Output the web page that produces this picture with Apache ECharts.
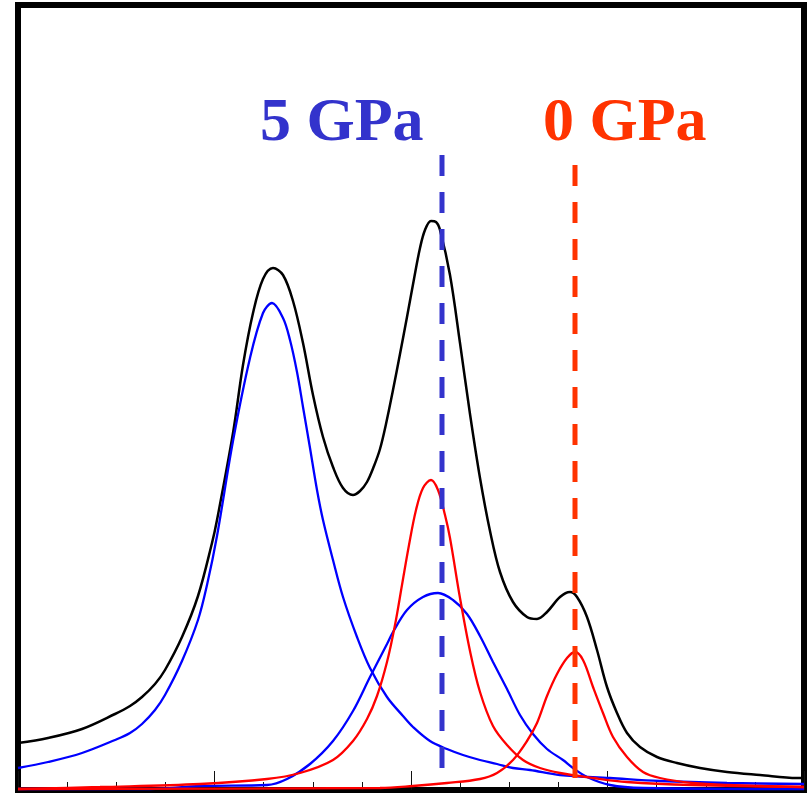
<!DOCTYPE html>
<html>
<head>
<meta charset="utf-8">
<title>peaks</title>
<script src="https://cdn.jsdelivr.net/npm/echarts@6/dist/echarts.min.js"></script>
<style>
  html, body { margin: 0; padding: 0; background: #fff; }
  #main { width: 808px; height: 793px; }
</style>
</head>
<body>
<div id="main"></div>
<script>
// readings, [x, intensity] in arbitrary units
let totalCurve = [
  [0, 47], [30, 52], [64, 61], [97, 76], [112, 84], [124, 93], [137, 106], [147, 120],
  [164, 153], [180, 194], [194, 247], [199, 270], [215, 357], [225, 425], [235, 477],
  [245, 511], [255, 522], [265, 515], [275, 489], [285, 447], [295, 395], [305, 353],
  [315, 323], [325, 302], [335, 295], [342, 299], [349, 308], [356, 324], [362, 341],
  [368, 366], [375, 400], [382, 436], [389, 473], [396, 511], [402, 542], [407, 560],
  [413, 569], [418, 568], [422, 560], [432, 515], [442, 447], [452, 376], [462, 312],
  [472, 259], [482, 218], [495, 188], [509, 173], [519, 171], [529, 178], [542, 193],
  [552, 198], [559, 193], [569, 173], [579, 140], [589, 103], [599, 77], [609, 57],
  [622, 43], [639, 33], [659, 27], [682, 22], [709, 18], [742, 15], [779, 12], [786, 12]
];
let blueBroad = [
  [0, 22], [30, 28], [64, 37], [97, 50], [112, 57], [124, 66], [137, 80], [147, 95],
  [164, 129], [180, 170], [189, 205], [199, 254], [215, 349], [232, 432], [245, 477],
  [254, 487], [265, 472], [272, 450], [279, 418], [285, 383], [292, 342], [299, 300],
  [305, 270], [315, 230], [325, 193], [339, 153], [352, 122], [369, 93], [385, 74],
  [395, 63], [412, 49], [429, 41], [445, 35], [462, 30], [479, 26], [495, 22],
  [512, 20], [542, 15], [592, 12], [642, 9], [709, 7], [786, 6]
];
let blueSecond = [
  [0, 1], [132, 1], [182, 4], [249, 5], [269, 11], [292, 26], [315, 49], [335, 79],
  [352, 113], [369, 146], [375, 158], [389, 180], [405, 193], [420, 197], [435, 190],
  [449, 176], [462, 154], [475, 128], [489, 101], [502, 75], [515, 56], [529, 41],
  [545, 30], [555, 22], [569, 13], [592, 5], [625, 2], [786, 1]
];
let redFirst = [
  [0, 1], [82, 3], [182, 6], [249, 11], [282, 17], [315, 30], [335, 49], [349, 71],
  [359, 94], [369, 128], [377, 165], [384, 205], [391, 245], [398, 280], [405, 302],
  [413, 310], [420, 300], [427, 275], [432, 252], [442, 192], [452, 139], [462, 98],
  [475, 64], [489, 45], [505, 30], [522, 22], [542, 17], [575, 12], [609, 8],
  [675, 5], [786, 3]
];
let redSecond = [
  [0, 1], [362, 2], [395, 4], [429, 7], [462, 11], [479, 17], [495, 30], [509, 49],
  [519, 67], [529, 94], [539, 116], [549, 132], [557, 138], [565, 130], [575, 103],
  [585, 77], [595, 53], [609, 33], [625, 18], [642, 12], [675, 7], [709, 5], [786, 3]
];
// pressure markers: position and vertical extent
let marker5GPa = [[424, 635], [424, 17]];
let marker0GPa = [[557, 625], [557, 5]];
let markerLabels = ['5 GPa', '0 GPa'];

let chart = echarts.init(document.getElementById('main'));

function curve(name, data, color, width) {
  return {
    name: name,
    type: 'line',
    data: data,
    symbol: 'none',
    smooth: 0.35,
    lineStyle: { color: color, width: width },
    silent: true
  };
}

function marker(name, data, color) {
  return {
    name: name,
    type: 'line',
    data: data,
    symbol: 'none',
    lineStyle: { color: color, width: 5, type: [21, 16] },
    silent: true,
    z: 5
  };
}

let option = {
  animation: false,
  grid: {
    left: 18, right: 4, top: 5, bottom: 3,
    show: true,
    borderColor: '#000',
    borderWidth: 6,
    backgroundColor: 'transparent'
  },
  xAxis: {
    type: 'value',
    min: 0,
    max: 786,
    interval: 196.5,
    axisLine: { show: false },
    axisLabel: { show: false },
    splitLine: { show: false },
    axisTick: { show: true, inside: true, length: 19, lineStyle: { color: '#111', width: 1 } },
    minorTick: { show: true, splitNumber: 4, length: 8, lineStyle: { color: '#111', width: 1 } }
  },
  yAxis: {
    type: 'value',
    min: 0,
    max: 785,
    show: false
  },
  graphic: [
    {
      type: 'text', x: 260, y: 124,
      style: { text: markerLabels[0], font: 'bold 62px "Liberation Serif"', fill: '#3333CC', verticalAlign: 'middle' }
    },
    {
      type: 'text', x: 543, y: 124,
      style: { text: markerLabels[1], font: 'bold 62px "Liberation Serif"', fill: '#FF3300', verticalAlign: 'middle' }
    }
  ],
  series: [
    curve('total', totalCurve, '#000', 2.5),
    curve('blue broad', blueBroad, '#0000FF', 2.3),
    curve('blue second', blueSecond, '#0000FF', 2.3),
    curve('red first', redFirst, '#FF0000', 2.3),
    curve('red second', redSecond, '#FF0000', 2.3),
    marker('5 GPa', marker5GPa, '#3333CC'),
    marker('0 GPa', marker0GPa, '#FF3300')
  ]
};

chart.setOption(option);
</script>
</body>
</html>
